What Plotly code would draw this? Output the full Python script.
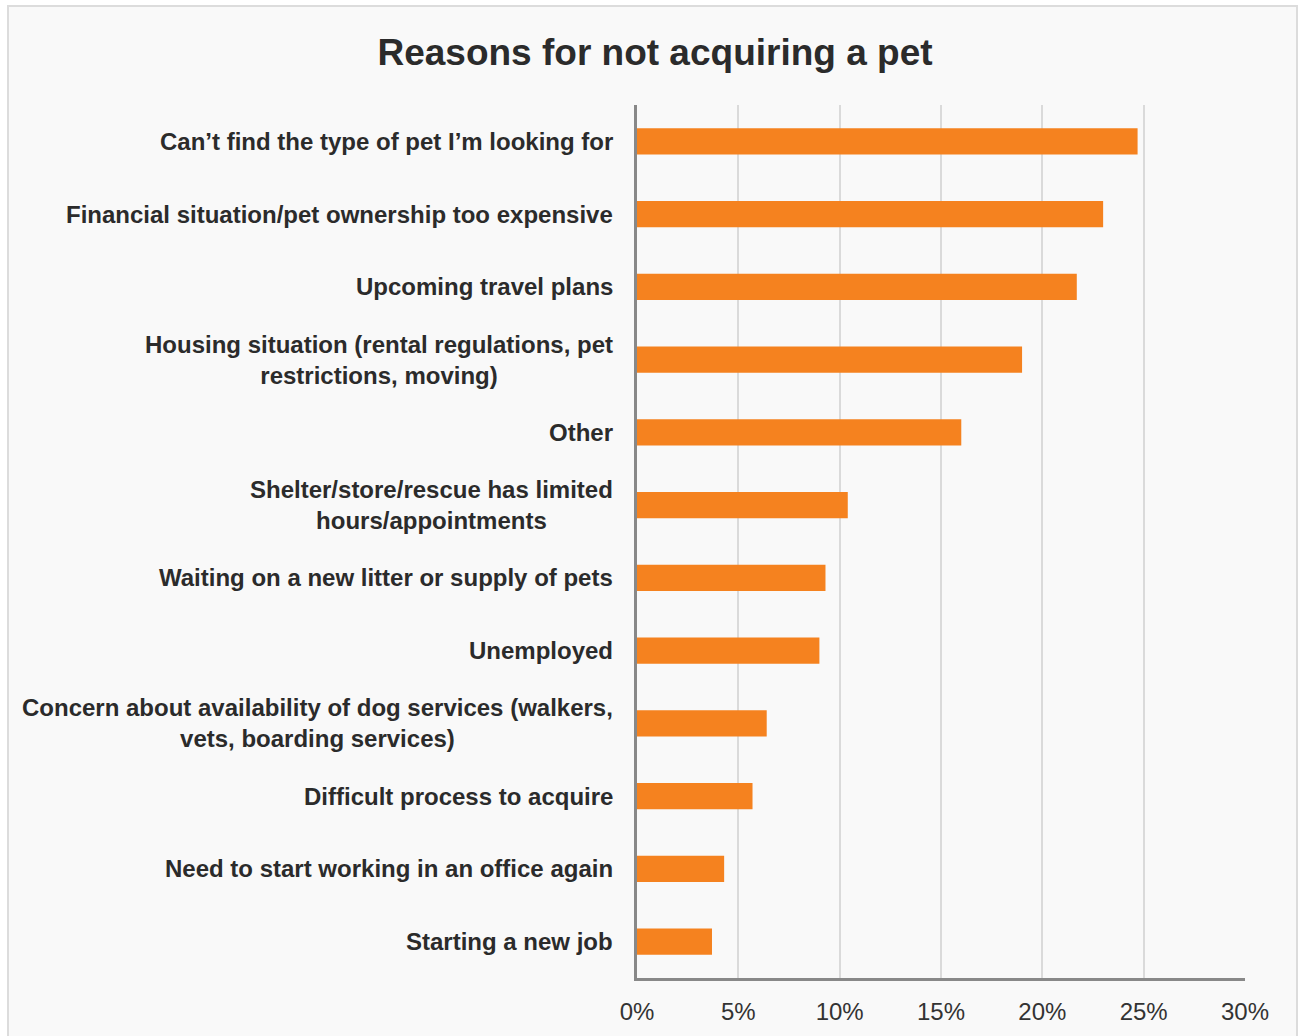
import plotly.graph_objects as go

categories = [
    "Can’t find the type of pet I’m looking for",
    "Financial situation/pet ownership too expensive",
    "Upcoming travel plans",
    "Housing situation (rental regulations, pet<br>restrictions, moving)",
    "Other",
    "Shelter/store/rescue has limited<br>hours/appointments",
    "Waiting on a new litter or supply of pets",
    "Unemployed",
    "Concern about availability of dog services (walkers,<br>vets, boarding services)",
    "Difficult process to acquire",
    "Need to start working in an office again",
    "Starting a new job",
]
values = [24.7, 23.0, 21.7, 19.0, 16.0, 10.4, 9.3, 9.0, 6.4, 5.7, 4.3, 3.7]
tick_vals = [0, 5, 10, 15, 20, 25, 30]
tick_text = ["0%", "5%", "10%", "15%", "20%", "25%", "30%"]

W, H = 1299, 1036
L, R, T, B = 637, 54, 105, 58
pw, ph = W - L - R, H - T - B

def px_to_paper_x(px):
    return (px - L) / pw

def px_to_paper_y(py):
    return (H - B - py) / ph

ycats = categories[::-1]

fig = go.Figure(go.Bar(
    x=values[::-1],
    y=ycats,
    orientation="h",
    marker=dict(color="#F5821F", line=dict(width=0)),
    width=0.36,
))

annotations = []
for c in categories:
    annotations.append(dict(
        xref="paper", yref="y", x=px_to_paper_x(615), y=c,
        text="<b>" + c + "</b>", showarrow=False,
        xanchor="right", yanchor="middle", align="center",
        font=dict(size=24, color="#2b2b2b"),
    ))

fig.update_layout(
    width=W, height=H,
    margin=dict(l=L, r=R, t=T, b=B),
    paper_bgcolor="white",
    plot_bgcolor="rgba(0,0,0,0)",
    font=dict(family="Liberation Sans, Arial, sans-serif", color="#2b2b2b"),
    title=dict(
        text="<b>Reasons for not acquiring a pet</b>",
        x=655 / W, xanchor="center",
        y=1 - 52 / H, yanchor="middle",
        font=dict(size=37, color="#2b2b2b"),
    ),
    showlegend=False,
    annotations=annotations,
    shapes=[dict(
        type="rect", xref="paper", yref="paper", layer="below",
        x0=px_to_paper_x(8), x1=px_to_paper_x(1297),
        y0=px_to_paper_y(1045), y1=px_to_paper_y(6),
        fillcolor="#f9f9f9", line=dict(color="#dcdcdc", width=2),
    )],
)

fig.update_xaxes(
    range=[0, 30],
    tickvals=tick_vals, ticktext=tick_text,
    showgrid=True, gridcolor="#dadada", gridwidth=1.5,
    showline=True, linecolor="#888888", linewidth=3,
    zeroline=False,
    ticks="", ticklabelstandoff=10,
    tickfont=dict(size=24, color="#333333"),
    fixedrange=True,
)
fig.update_yaxes(
    categoryorder="array", categoryarray=ycats,
    showline=True, linecolor="#888888", linewidth=3,
    showgrid=False, showticklabels=False,
    ticks="",
    fixedrange=True,
)

fig.write_html("out.html", config={"displayModeBar": False},
               post_script="document.body.style.margin='0';")
